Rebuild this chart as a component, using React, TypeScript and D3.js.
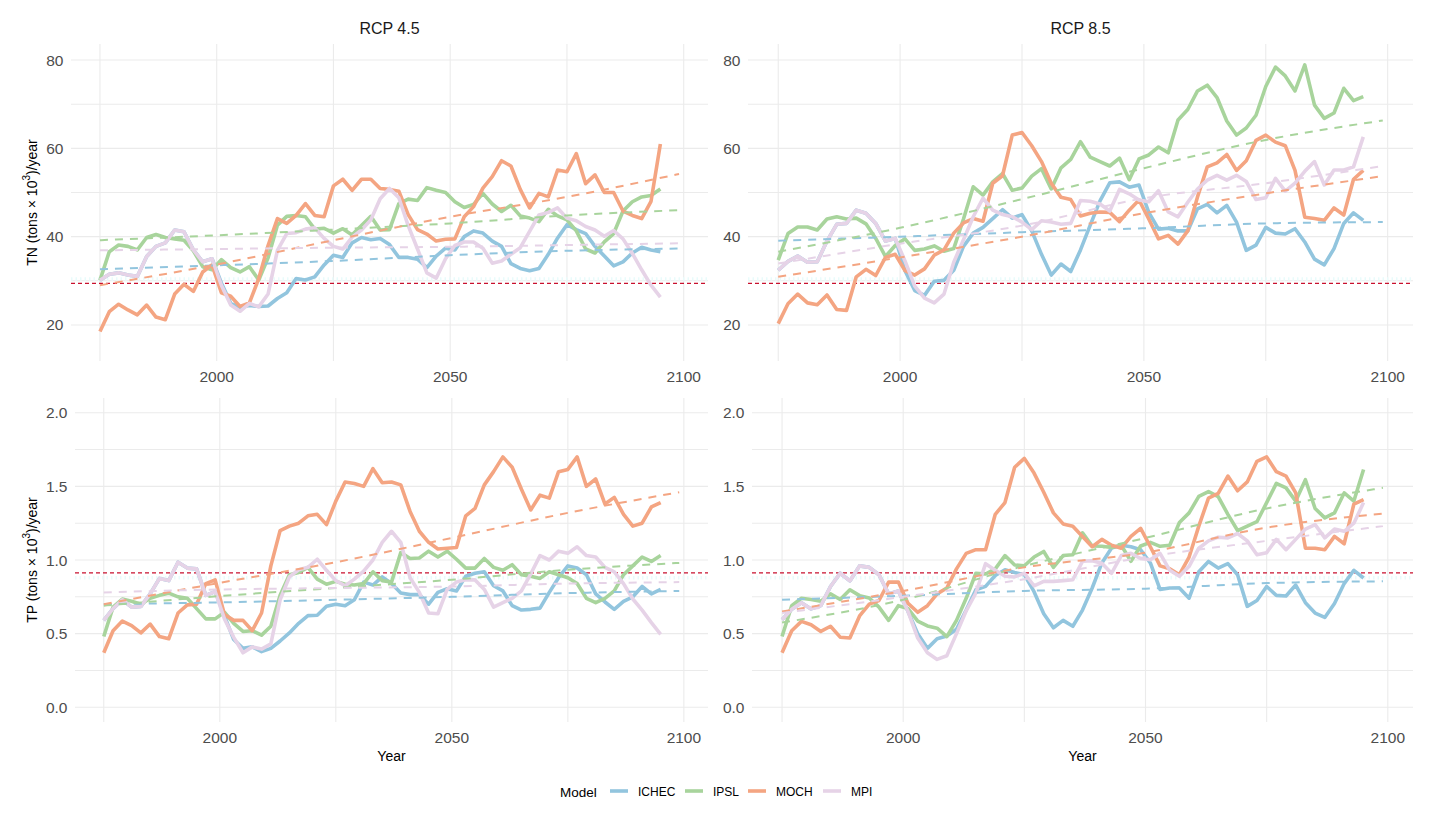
import React, { useEffect } from 'react';
import * as d3 from 'd3';

// ---------- DATA ----------
const years = [1975,1977,1979,1981,1983,1985,1987,1989,1991,1993,1995,1997,1999,
  2001,2003,2005,2007,2009,2011,2013,2015,2017,2019,2021,2023,2025,2027,2029,2031,
  2033,2035,2037,2039,2041,2043,2045,2047,2049,2051,2053,2055,2057,2059,2061,2063,
  2065,2067,2069,2071,2073,2075,2077,2079,2081,2083,2085,2087,2089,2091,2093,2095];

const models = ['ICHEC', 'IPSL', 'MOCH', 'MPI'];
const modelColors = ['#92C5DE', '#A8D49C', '#F4A582', '#E6D3E7'];

// TN, RCP 4.5
const tn45Ichec = [30.1,31.5,31.8,31.3,31.0,35.5,37.8,38.6,41.5,41.1,37.0,34.3,35.0,
  29.5,24.9,24.0,24.4,24.2,24.3,26.0,27.3,30.5,30.2,30.9,33.6,35.8,35.3,38.6,39.8,
  39.3,39.6,38.2,35.3,35.3,34.9,33.0,35.6,37.4,37.0,40.0,41.3,40.8,39.0,37.8,33.9,
  32.8,32.3,32.8,36.0,39.7,42.7,41.6,40.7,37.8,35.6,33.4,34.3,36.3,37.6,37.0,36.6];
const tn45Ipsl = [30.1,36.6,38.1,37.8,37.0,39.8,40.5,39.8,39.5,39.2,36.8,33.2,32.5,
  34.8,33.0,32.0,33.2,30.2,35.2,42.6,44.6,44.8,44.5,41.7,41.9,40.8,41.8,40.4,42.5,
  44.6,41.5,41.6,47.5,48.5,48.2,51.1,50.5,50.0,47.9,46.6,47.3,49.8,47.4,45.7,47.1,
  44.7,44.2,43.4,46.2,44.7,43.8,41.3,37.2,36.3,38.8,40.7,45.8,47.9,49.0,49.3,50.8];
const tn45Moch = [18.5,23.0,24.7,23.4,22.3,24.5,21.8,21.2,27.0,29.2,27.6,32.0,33.6,
  27.3,26.5,24.2,25.0,30.5,38.0,44.1,43.0,44.8,47.5,44.8,44.5,51.5,53.0,50.5,53.0,
  53.0,50.9,50.7,50.3,45.0,41.6,40.6,39.0,39.4,39.5,44.5,46.8,51.0,53.6,57.2,56.0,
  50.7,46.5,49.8,49.0,55.1,54.7,58.8,52.0,54.0,50.0,50.0,45.8,44.8,44.1,48.0,61.0];
const tn45Mpi = [30.1,31.5,31.8,31.3,31.0,35.5,37.8,38.6,41.5,41.1,37.0,34.3,35.0,
  29.0,24.5,23.1,24.9,24.1,27.0,36.9,40.7,40.9,41.7,42.0,39.6,37.8,37.2,39.9,41.5,
  43.8,48.6,50.9,48.8,42.5,37.2,31.8,30.6,35.0,38.0,38.8,38.8,37.4,34.0,34.5,36.0,
  37.5,41.2,44.9,45.5,46.5,44.2,43.6,42.3,41.5,40.1,41.4,39.5,36.2,32.5,29.0,26.3];

// TN, RCP 8.5
const tn85Ichec = [32.4,34.4,35.6,34.2,34.3,39.0,42.8,43.0,46.0,45.3,43.0,39.0,39.6,
  32.3,27.8,26.7,29.9,30.1,32.4,37.8,40.8,42.1,44.1,46.1,44.2,45.0,41.3,36.0,31.3,
  33.8,32.1,37.0,42.6,48.1,52.2,52.4,51.2,51.7,45.5,41.7,41.9,41.3,41.3,46.3,47.3,
  45.4,47.1,43.3,36.9,38.1,42.1,40.8,40.6,41.8,38.8,34.9,33.6,37.3,43.0,45.4,43.7];
const tn85Ipsl = [34.7,40.7,42.2,42.2,41.5,44.0,44.5,44.0,44.2,42.9,39.6,35.5,38.0,
  39.5,36.9,37.2,37.9,36.7,37.3,44.0,51.3,49.4,52.4,54.3,50.5,51.0,53.7,55.4,50.8,
  55.6,57.5,61.5,58.0,57.0,56.0,57.8,52.9,57.6,58.5,60.3,59.0,66.4,68.8,73.0,74.3,
  71.5,66.2,63.0,64.6,67.5,74.0,78.4,76.4,73.0,78.9,69.8,66.8,68.0,73.6,70.8,71.7];
const tn85Moch = [20.3,24.8,27.0,25.0,24.6,26.8,23.5,23.3,30.9,32.6,31.2,35.3,36.0,
  32.3,31.3,32.7,35.8,37.0,40.8,43.1,44.1,43.5,52.1,53.8,63.0,63.6,60.6,57.0,52.1,
  48.9,48.4,44.7,45.3,45.6,45.5,43.4,46.0,48.3,44.0,39.5,40.3,38.3,41.3,49.0,55.8,
  56.7,58.6,55.0,57.2,61.8,63.0,61.4,60.6,55.0,44.4,44.1,43.7,46.5,44.9,53.0,55.0];
const tn85Mpi = [32.4,34.4,35.6,34.2,34.3,39.0,42.8,43.0,46.0,45.3,43.0,39.0,39.6,
  34.5,28.8,26.1,25.0,27.0,34.2,39.3,44.5,48.7,46.0,45.0,44.5,43.3,41.6,43.6,43.3,
  42.8,43.0,48.2,48.0,47.4,45.8,50.7,49.7,48.3,47.9,50.4,45.6,44.5,47.8,50.8,52.8,
  53.9,52.8,53.9,52.5,48.4,48.8,53.2,50.3,52.1,54.8,57.0,51.7,55.1,55.1,55.8,62.6];

// TP, RCP 4.5
const tp45Ichec = [0.59,0.67,0.73,0.68,0.685,0.77,0.875,0.86,0.985,0.945,0.94,0.76,0.785,
  0.62,0.46,0.40,0.41,0.378,0.40,0.45,0.505,0.57,0.622,0.625,0.686,0.70,0.69,0.73,0.85,
  0.83,0.885,0.84,0.776,0.765,0.765,0.70,0.78,0.805,0.79,0.89,0.91,0.92,0.825,0.79,0.69,
  0.66,0.665,0.673,0.78,0.88,0.96,0.946,0.90,0.77,0.715,0.665,0.719,0.75,0.82,0.77,0.80];
const tp45Ipsl = [0.48,0.68,0.735,0.72,0.70,0.74,0.76,0.775,0.75,0.74,0.67,0.60,0.60,
  0.645,0.57,0.515,0.52,0.49,0.55,0.76,0.90,0.915,0.95,0.87,0.835,0.855,0.835,0.83,0.84,
  0.92,0.86,0.85,1.05,1.01,1.014,1.06,1.02,1.06,1.005,0.945,0.945,1.01,0.95,0.93,0.968,
  0.90,0.889,0.875,0.92,0.90,0.88,0.84,0.74,0.71,0.74,0.79,0.90,0.96,1.02,0.99,1.03];
const tp45Moch = [0.37,0.52,0.585,0.555,0.505,0.565,0.48,0.465,0.64,0.695,0.70,0.84,0.865,
  0.63,0.59,0.59,0.52,0.64,0.96,1.20,1.23,1.25,1.30,1.31,1.24,1.40,1.53,1.52,1.50,
  1.62,1.525,1.53,1.51,1.33,1.195,1.12,1.075,1.08,1.085,1.30,1.35,1.51,1.60,1.70,1.63,
  1.48,1.34,1.44,1.42,1.60,1.615,1.70,1.50,1.55,1.38,1.425,1.31,1.23,1.25,1.36,1.39];
const tp45Mpi = [0.59,0.67,0.73,0.68,0.685,0.77,0.875,0.86,0.985,0.945,0.94,0.76,0.785,
  0.60,0.475,0.37,0.41,0.395,0.43,0.73,0.885,0.934,0.95,1.005,0.93,0.86,0.825,0.87,0.925,
  1.00,1.12,1.195,1.12,0.88,0.78,0.64,0.635,0.80,0.85,0.866,0.865,0.80,0.68,0.71,0.74,
  0.79,0.905,1.03,1.00,1.06,1.045,1.09,1.03,1.02,0.95,0.92,0.84,0.735,0.66,0.575,0.495];

// TP, RCP 8.5
const tp85Ichec = [0.594,0.665,0.71,0.668,0.69,0.82,0.91,0.858,0.96,0.95,0.90,0.77,0.79,
  0.65,0.50,0.40,0.465,0.484,0.53,0.66,0.798,0.821,0.895,0.934,0.915,0.90,0.785,0.635,0.54,
  0.59,0.55,0.66,0.81,0.98,1.082,1.10,1.09,1.07,0.98,0.80,0.81,0.81,0.741,0.92,0.99,
  0.945,0.975,0.90,0.685,0.725,0.82,0.76,0.756,0.83,0.71,0.64,0.61,0.705,0.84,0.93,0.878];
const tp85Ipsl = [0.48,0.69,0.74,0.732,0.72,0.77,0.732,0.798,0.758,0.742,0.68,0.59,0.69,
  0.67,0.585,0.552,0.537,0.48,0.59,0.74,0.91,0.905,0.94,1.03,0.966,0.961,1.02,1.058,0.95,
  1.03,1.036,1.184,1.095,1.093,1.085,1.10,0.991,1.095,1.12,1.093,1.10,1.255,1.32,1.432,1.465,
  1.43,1.31,1.20,1.23,1.26,1.39,1.52,1.49,1.40,1.545,1.35,1.286,1.32,1.455,1.40,1.615];
const tp85Moch = [0.37,0.52,0.583,0.56,0.515,0.55,0.476,0.47,0.62,0.70,0.725,0.85,0.85,
  0.705,0.645,0.69,0.77,0.81,0.94,1.045,1.07,1.07,1.31,1.39,1.63,1.69,1.59,1.46,1.32,
  1.245,1.229,1.16,1.09,1.14,1.10,1.08,1.16,1.215,1.09,0.96,0.94,0.90,1.02,1.23,1.42,
  1.452,1.57,1.47,1.53,1.67,1.70,1.60,1.57,1.456,1.08,1.08,1.07,1.16,1.11,1.38,1.41];
const tp85Mpi = [0.594,0.665,0.71,0.668,0.69,0.82,0.91,0.858,0.96,0.95,0.90,0.77,0.79,
  0.65,0.47,0.37,0.325,0.35,0.50,0.655,0.776,0.975,0.93,0.89,0.885,0.91,0.825,0.855,0.855,
  0.86,0.866,0.991,0.995,0.978,0.91,1.03,1.045,1.01,1.002,1.045,0.93,0.889,0.957,1.08,1.13,
  1.155,1.15,1.18,1.13,1.035,1.05,1.14,1.07,1.14,1.21,1.24,1.15,1.21,1.195,1.25,1.39];

// Trend (dashed) curves, sampled at these years
const trendYears = [1975, 2000, 2025, 2050, 2075, 2099];
const tn45TrendIchec = [32.6, 33.5, 34.5, 35.8, 36.8, 37.3];
const tn45TrendIpsl = [39.2, 40.3, 41.6, 43.0, 44.8, 46.0];
const tn45TrendMoch = [29.0, 33.7, 39.2, 44.5, 49.0, 54.2];
const tn45TrendMpi = [36.9, 37.2, 37.5, 37.7, 38.1, 38.5];
const tn85TrendIchec = [39.1, 40.0, 41.0, 41.9, 43.0, 43.3];
const tn85TrendIpsl = [36.6, 42.0, 48.5, 55.5, 61.9, 66.3];
const tn85TrendMoch = [30.9, 35.3, 40.0, 45.3, 49.8, 53.7];
const tn85TrendMpi = [33.9, 38.4, 42.5, 48.7, 52.1, 56.0];
const tp45TrendIchec = [0.70, 0.712, 0.73, 0.75, 0.775, 0.79];
const tp45TrendIpsl = [0.69, 0.755, 0.81, 0.866, 0.934, 0.98];
const tp45TrendMoch = [0.70, 0.845, 0.985, 1.15, 1.32, 1.46];
const tp45TrendMpi = [0.78, 0.80, 0.81, 0.82, 0.84, 0.85];
const tp85TrendIchec = [0.73, 0.757, 0.79, 0.805, 0.843, 0.855];
const tp85TrendIpsl = [0.575, 0.73, 0.96, 1.15, 1.35, 1.49];
const tp85TrendMoch = [0.65, 0.79, 0.95, 1.05, 1.22, 1.315];
const tp85TrendMpi = [0.64, 0.75, 0.87, 1.02, 1.13, 1.23];

// Reference levels
const tnReference = 29.4;
const tpReference = 0.912;
const tnBand = 30.4;
const tpBand = 0.88;

// Axes
const xBreaks = [2000, 2050, 2100];
const xMinorBreaks = [1975, 2025, 2075];
const tnBreaks = [20, 40, 60, 80];
const tnMinorBreaks = [30, 50, 70];
const tpBreaks = [0, 0.5, 1.0, 1.5, 2.0];
const tpMinorBreaks = [0.25, 0.75, 1.25, 1.75];
const rcpTitles = ['RCP 4.5', 'RCP 8.5'];

// ---------- LAYOUT ----------
const W = 1432, H = 821;
const FONT = '"Liberation Sans", Arial, Helvetica, sans-serif';
const xDomain: [number, number] = [1968.8, 2105.2];
const tnDomain: [number, number] = [11.84, 83.63];
const tpDomain: [number, number] = [-0.1, 2.1];

type Panel = {
  x0: number; x1: number; y0: number; y1: number;
  yDomain: [number, number]; breaks: number[]; minor: number[];
  fmt: (v: number) => string;
  series: number[][]; trends: number[][];
  reference: number; band: number;
  title?: string; xTitle?: string;
};

const panels: Panel[] = [
  { x0: 71, x1: 708, y0: 44, y1: 361, yDomain: tnDomain, breaks: tnBreaks, minor: tnMinorBreaks,
    fmt: d3.format('d'), series: [tn45Ichec, tn45Ipsl, tn45Moch, tn45Mpi],
    trends: [tn45TrendIchec, tn45TrendIpsl, tn45TrendMoch, tn45TrendMpi],
    reference: tnReference, band: tnBand, title: rcpTitles[0] },
  { x0: 748, x1: 1413, y0: 44, y1: 361, yDomain: tnDomain, breaks: tnBreaks, minor: tnMinorBreaks,
    fmt: d3.format('d'), series: [tn85Ichec, tn85Ipsl, tn85Moch, tn85Mpi],
    trends: [tn85TrendIchec, tn85TrendIpsl, tn85TrendMoch, tn85TrendMpi],
    reference: tnReference, band: tnBand, title: rcpTitles[1] },
  { x0: 75, x1: 708, y0: 398, y1: 722, yDomain: tpDomain, breaks: tpBreaks, minor: tpMinorBreaks,
    fmt: d3.format('.1f'), series: [tp45Ichec, tp45Ipsl, tp45Moch, tp45Mpi],
    trends: [tp45TrendIchec, tp45TrendIpsl, tp45TrendMoch, tp45TrendMpi],
    reference: tpReference, band: tpBand, xTitle: 'Year' },
  { x0: 752, x1: 1413, y0: 398, y1: 722, yDomain: tpDomain, breaks: tpBreaks, minor: tpMinorBreaks,
    fmt: d3.format('.1f'), series: [tp85Ichec, tp85Ipsl, tp85Moch, tp85Mpi],
    trends: [tp85TrendIchec, tp85TrendIpsl, tp85TrendMoch, tp85TrendMpi],
    reference: tpReference, band: tpBand, xTitle: 'Year' },
];

function PanelView({ p }: { p: Panel }) {
  const x = d3.scaleLinear().domain(xDomain).range([p.x0, p.x1]);
  const y = d3.scaleLinear().domain(p.yDomain).range([p.y1, p.y0]);
  const line = d3.line<number>().x((_, i) => x(years[i])).y((v) => y(v));
  const trendLine = d3.line<number>().x((_, i) => x(trendYears[i])).y((v) => y(v)).curve(d3.curveMonotoneX);
  const grid = '#ebebeb';
  return (
    <g>
      {[...p.minor, ...p.breaks].map((v) => (
        <line key={'h' + v} x1={p.x0} x2={p.x1} y1={y(v)} y2={y(v)} stroke={grid} strokeWidth={1.1} />
      ))}
      {[...xMinorBreaks, ...xBreaks].map((v) => (
        <line key={'v' + v} x1={x(v)} x2={x(v)} y1={p.y0} y2={p.y1} stroke={grid} strokeWidth={1.1} />
      ))}
      {/* faint band + reference line */}
      <line x1={p.x0} x2={p.x1} y1={y(p.band)} y2={y(p.band)} stroke="#e9fbfb" strokeWidth={3.5} strokeDasharray="1.5,3" />
      <line x1={p.x0} x2={p.x1} y1={y(p.reference)} y2={y(p.reference)} stroke="#c8102e" strokeWidth={1.3} strokeDasharray="4,3" />
      {p.series.map((s, i) => (
        <path key={'s' + i} d={line(s) || ''} fill="none" stroke={modelColors[i]} strokeWidth={3.6}
          strokeLinejoin="round" strokeLinecap="butt" />
      ))}
      {p.trends.map((s, i) => (
        <path key={'t' + i} d={trendLine(s) || ''} fill="none" stroke={modelColors[i]} strokeWidth={2}
          strokeDasharray="8,7" />
      ))}
      {p.breaks.map((v) => (
        <text key={'yl' + v} x={p.x0 - 7.5} y={y(v)} textAnchor="end" dominantBaseline="central"
          fontSize={15.5} fill="#4d4d4d" fontFamily={FONT}>{p.fmt(v)}</text>
      ))}
      {xBreaks.map((v) => (
        <text key={'xl' + v} x={x(v)} y={p.y1 + 15.5} textAnchor="middle" dominantBaseline="central"
          fontSize={15.5} fill="#4d4d4d" fontFamily={FONT}>{v}</text>
      ))}
      {p.title && (
        <text x={(p.x0 + p.x1) / 2} y={28} textAnchor="middle" dominantBaseline="central"
          fontSize={16} fill="#1a1a1a" fontFamily={FONT}>{p.title}</text>
      )}
      {p.xTitle && (
        <text x={(p.x0 + p.x1) / 2} y={756} textAnchor="middle" dominantBaseline="central"
          fontSize={14} fill="#000" fontFamily={FONT}>{p.xTitle}</text>
      )}
    </g>
  );
}

function YTitle({ cy, name }: { cy: number; name: string }) {
  return (
    <text transform={`translate(32,${cy}) rotate(-90)`} textAnchor="middle" dominantBaseline="central"
      fontSize={14} fill="#000" fontFamily={FONT}>
      {name + ' (tons × 10'}
      <tspan dy={-6} fontSize={10}>3</tspan>
      <tspan dy={6}>{')/year'}</tspan>
    </text>
  );
}

export default function App() {
  useEffect(() => {
    document.body.style.margin = '0';
  }, []);
  const legendX = [610, 685, 748, 823];
  const labelX = [638, 713, 776, 851];
  return (
    <svg width={W} height={H} style={{ position: 'absolute', left: 0, top: 0, background: '#fff' }}>
      <rect width={W} height={H} fill="#fff" />
      {panels.map((p, i) => <PanelView key={i} p={p} />)}
      <YTitle cy={(44 + 361) / 2} name="TN" />
      <YTitle cy={(398 + 722) / 2} name="TP" />
      <text x={560} y={792} dominantBaseline="central" fontSize={13.5} fill="#000" fontFamily={FONT}>Model</text>
      {models.map((m, i) => (
        <g key={m}>
          <line x1={legendX[i]} x2={legendX[i] + 18} y1={791} y2={791} stroke={modelColors[i]} strokeWidth={3.6} />
          <text x={labelX[i]} y={792} dominantBaseline="central" fontSize={12} fill="#000" fontFamily={FONT}>{m}</text>
        </g>
      ))}
    </svg>
  );
}
